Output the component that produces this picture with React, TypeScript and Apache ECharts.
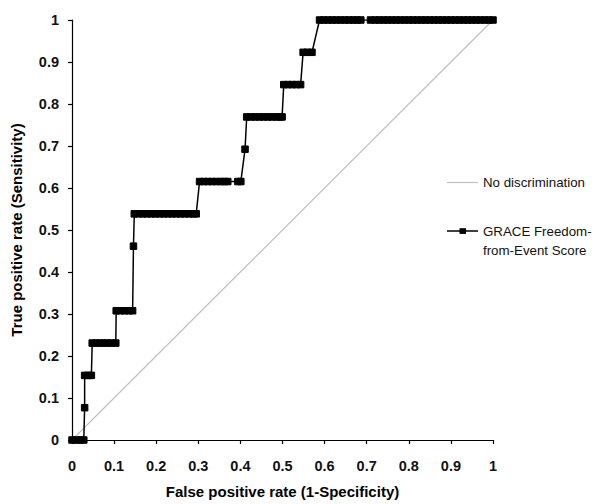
import React, { useEffect, useRef } from "react";
import * as echarts from "echarts";

const FONT = "'Liberation Sans', Arial, Helvetica, sans-serif";

const xAxisTitle = "False positive rate (1-Specificity)";
const yAxisTitle = "True positive rate (Sensitivity)";
const diagonalName = "No discrimination";
const graceName = "GRACE Freedom-from-Event Score";
const graceLegendLines = ["GRACE Freedom-", "from-Event Score"];

// No-discrimination reference line
const diagonalX = [0, 1];
const diagonalY = [0, 1];

// GRACE ROC curve: false positive rate (x) and sensitivity (y) of each marker
const graceFpr = [
  0, 0.01, 0.02, 0.028,
  0.03,
  0.03, 0.038, 0.046,
  0.048, 0.057, 0.066, 0.075, 0.084, 0.093, 0.104,
  0.105, 0.115, 0.125, 0.135, 0.144,
  0.146,
  0.148, 0.158, 0.168, 0.178, 0.188, 0.198, 0.208, 0.218, 0.228, 0.238, 0.248, 0.258, 0.268, 0.278, 0.288, 0.295,
  0.303, 0.313, 0.323, 0.333, 0.343, 0.353, 0.362, 0.37, 0.394, 0.401,
  0.411,
  0.415, 0.425, 0.435, 0.445, 0.455, 0.465, 0.475, 0.485, 0.494, 0.499,
  0.503, 0.513, 0.523, 0.533, 0.543,
  0.549, 0.559, 0.57,
  0.588, 0.598, 0.608, 0.618, 0.628, 0.638, 0.648, 0.658, 0.668, 0.677, 0.686,
  0.709, 0.72, 0.73, 0.74, 0.75, 0.76, 0.77, 0.78, 0.79, 0.8, 0.81, 0.82, 0.83, 0.84, 0.85,
  0.86, 0.87, 0.88, 0.89, 0.9, 0.91, 0.92, 0.93, 0.94, 0.95, 0.96, 0.97, 0.98, 0.99, 1,
];
const graceTpr = [
  0, 0, 0, 0,
  0.0769,
  0.1538, 0.1538, 0.1538,
  0.2308, 0.2308, 0.2308, 0.2308, 0.2308, 0.2308, 0.2308,
  0.3077, 0.3077, 0.3077, 0.3077, 0.3077,
  0.4615,
  0.5385, 0.5385, 0.5385, 0.5385, 0.5385, 0.5385, 0.5385, 0.5385, 0.5385, 0.5385, 0.5385, 0.5385, 0.5385, 0.5385, 0.5385, 0.5385,
  0.6154, 0.6154, 0.6154, 0.6154, 0.6154, 0.6154, 0.6154, 0.6154, 0.6154, 0.6154,
  0.6923,
  0.7692, 0.7692, 0.7692, 0.7692, 0.7692, 0.7692, 0.7692, 0.7692, 0.7692, 0.7692,
  0.8462, 0.8462, 0.8462, 0.8462, 0.8462,
  0.9231, 0.9231, 0.9231,
  1, 1, 1, 1, 1, 1, 1, 1, 1, 1, 1,
  1, 1, 1, 1, 1, 1, 1, 1, 1, 1, 1, 1, 1, 1, 1,
  1, 1, 1, 1, 1, 1, 1, 1, 1, 1, 1, 1, 1, 1, 1,
];

const axisMin = 0;
const axisMax = 1;
const axisStep = 0.1;

export default function App() {
  const ref = useRef<HTMLDivElement>(null);

  useEffect(() => {
    if (!ref.current) return;
    const chart = echarts.init(ref.current, undefined, { renderer: "svg" });

    const axisCommon = {
      type: "value" as const,
      min: axisMin,
      max: axisMax,
      interval: axisStep,
      nameLocation: "middle" as const,
      nameTextStyle: { fontFamily: FONT, fontSize: 15, fontWeight: "bold" as const, color: "#000" },
      axisLine: { show: true, lineStyle: { color: "#000", width: 1.2 } },
      axisTick: { show: true, inside: false, length: 4, lineStyle: { color: "#000", width: 1.2 } },
      splitLine: { show: false },
      axisLabel: {
        fontFamily: FONT,
        fontSize: 14.5,
        fontWeight: "bold" as const,
        color: "#111",
        formatter: (v: number) => String(Math.round(v * 10) / 10),
      },
    };

    const legendX = 447;
    const legendLineW = 31;
    const legendFont = `13.3px ${FONT}`;

    chart.setOption({
      animation: false,
      backgroundColor: "#fff",
      grid: { left: 72, right: 102, top: 20, bottom: 64, containLabel: false },
      xAxis: {
        ...axisCommon,
        name: xAxisTitle,
        nameGap: 44,
        axisLabel: { ...axisCommon.axisLabel, margin: 18 },
      },
      yAxis: {
        ...axisCommon,
        name: yAxisTitle,
        nameGap: 48,
        axisLabel: { ...axisCommon.axisLabel, margin: 13 },
      },
      series: [
        {
          name: diagonalName,
          type: "line",
          data: diagonalX.map((x, i) => [x, diagonalY[i]]),
          showSymbol: false,
          symbol: "none",
          lineStyle: { color: "#c0c0c0", width: 1.2 },
          z: 1,
        },
        {
          name: graceName,
          type: "line",
          data: graceFpr.map((x, i) => [x, graceTpr[i]]),
          symbol: "rect",
          symbolSize: 6.5,
          showAllSymbol: true,
          itemStyle: { color: "#000", borderWidth: 1, borderColor: "#000" },
          lineStyle: { color: "#000", width: 1.5 },
          z: 2,
        },
      ],
      graphic: [
        {
          type: "line",
          shape: { x1: legendX, y1: 182.5, x2: legendX + legendLineW, y2: 182.5 },
          style: { stroke: "#c0c0c0", lineWidth: 1.2 },
        },
        {
          type: "text",
          x: legendX + legendLineW + 5,
          y: 182.5,
          style: {
            text: diagonalName,
            font: legendFont,
            fill: "#111",
            verticalAlign: "middle",
            align: "left",
          },
        },
        {
          type: "line",
          shape: { x1: legendX, y1: 231, x2: legendX + legendLineW, y2: 231 },
          style: { stroke: "#000", lineWidth: 1.5 },
        },
        {
          type: "rect",
          shape: { x: legendX + legendLineW / 2 - 3, y: 228.2, width: 6.5, height: 5.7 },
          style: { fill: "#000" },
        },
        {
          type: "text",
          x: legendX + legendLineW + 5,
          y: 231,
          style: {
            text: graceLegendLines[0],
            font: legendFont,
            fill: "#111",
            verticalAlign: "middle",
            align: "left",
          },
        },
        {
          type: "text",
          x: legendX + legendLineW + 5,
          y: 250,
          style: {
            text: graceLegendLines[1],
            font: legendFont,
            fill: "#111",
            verticalAlign: "middle",
            align: "left",
          },
        },
      ],
    });

    return () => chart.dispose();
  }, []);

  return <div ref={ref} style={{ width: 595, height: 504, position: "absolute", left: 0, top: 0 }} />;
}
